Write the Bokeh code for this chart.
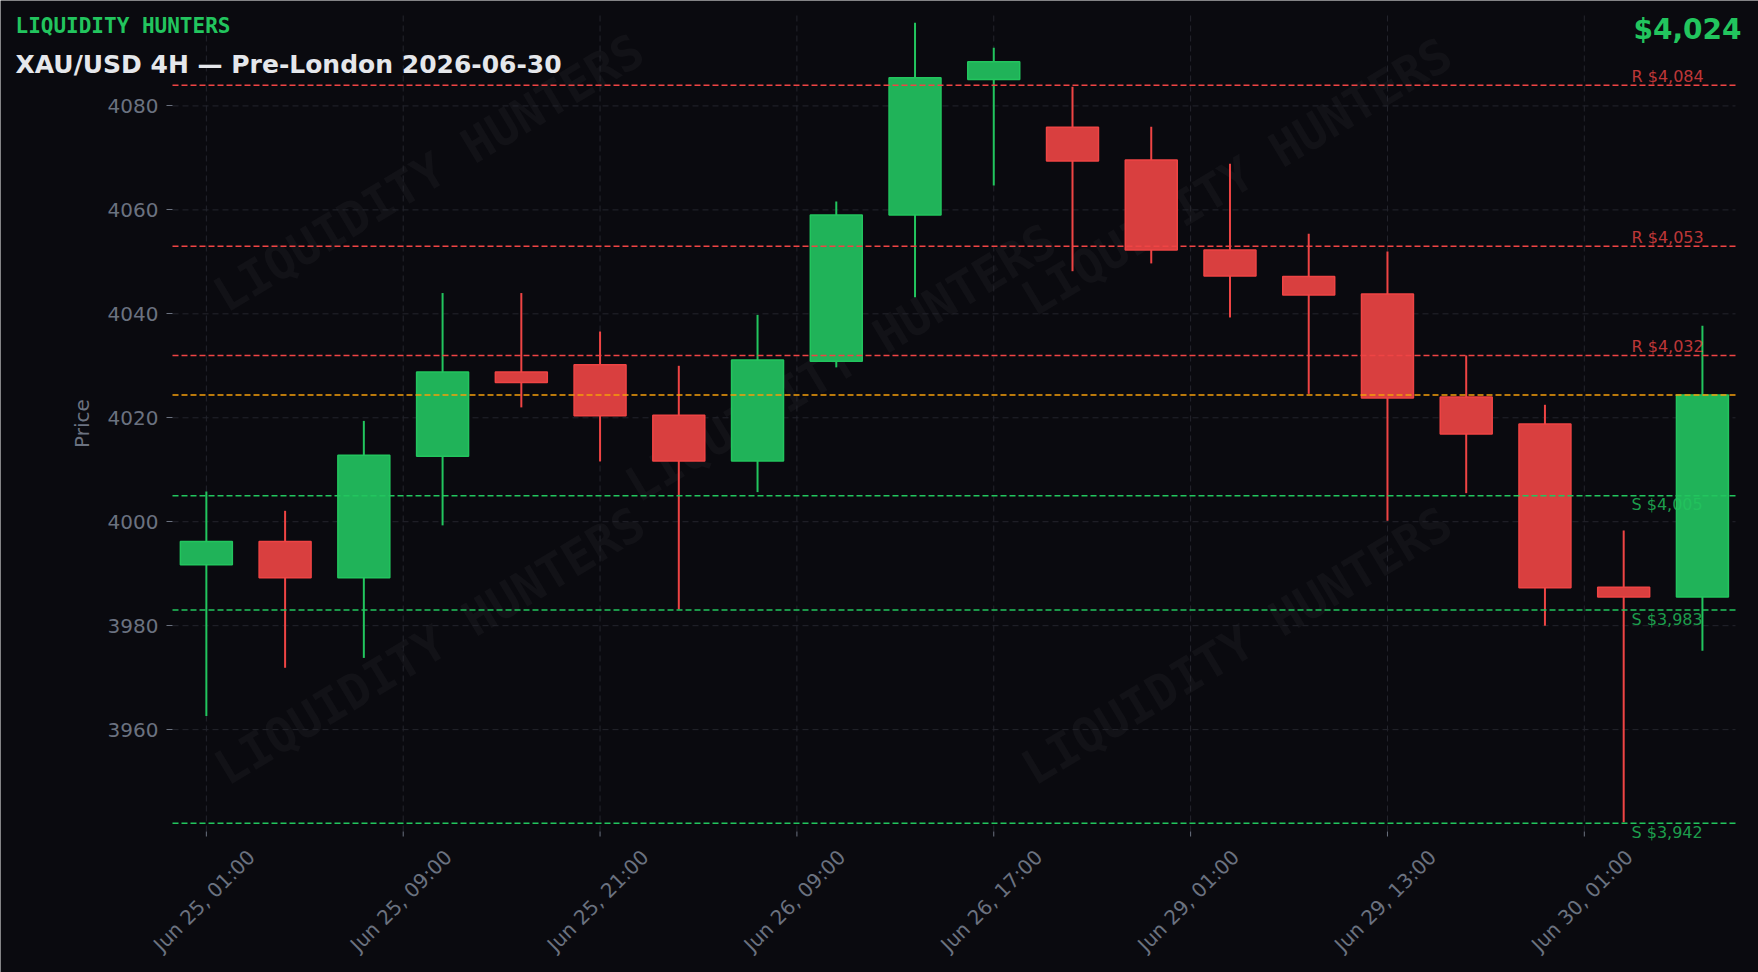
import math
from bokeh.plotting import figure
from bokeh.models import (Range1d, FixedTicker, Label, ColumnDataSource, LinearAxis)
from bokeh.embed import file_html
from bokeh.resources import INLINE

# ---------------- data ----------------
tick_positions = [0, 2.5, 5, 7.5, 10, 12.5, 15, 17.5]
tick_labels = ["Jun 25, 01:00", "Jun 25, 09:00", "Jun 25, 21:00", "Jun 26, 09:00",
               "Jun 26, 17:00", "Jun 29, 01:00", "Jun 29, 13:00", "Jun 30, 01:00"]

opens = [3991.7, 3996.2, 3989.2, 4012.6, 4028.8, 4030.2, 4020.5, 4011.7, 4030.9, 4059.0,
         4085.1, 4075.9, 4069.6, 4052.3, 4047.2, 4043.8, 4024.0, 4018.8, 3987.4, 3985.5]
highs = [4005.8, 4002.1, 4019.4, 4044.0, 4044.0, 4036.6, 4030.0, 4039.8, 4061.6, 4096.0,
         4091.2, 4083.7, 4076.0, 4068.9, 4055.4, 4052.0, 4032.0, 4022.5, 3998.3, 4037.7]
lows = [3962.6, 3971.9, 3973.8, 3999.3, 4022.0, 4011.6, 3983.1, 4005.7, 4029.7, 4043.2,
        4064.7, 4048.2, 4049.7, 4039.3, 4024.6, 4000.2, 4005.5, 3980.0, 3942.2, 3975.2]
closes = [3996.2, 3989.2, 4012.8, 4028.8, 4026.8, 4020.4, 4011.7, 4031.1, 4059.0, 4085.4,
          4088.5, 4069.4, 4052.3, 4047.3, 4043.6, 4023.8, 4016.9, 3987.3, 3985.5, 4024.4]

resistance_levels = [4084, 4053, 4032]
support_levels = [4005, 3983, 3942]
y_ticks = [3960, 3980, 4000, 4020, 4040, 4060, 4080]

brand_text = "LIQUIDITY HUNTERS"
title_text = "XAU/USD 4H \u2014 Pre-London 2026-06-30"

# ---------------- style / layout ----------------
BG = "#0a0a0f"
GREEN = "#22c55e"
RED = "#ef4444"
ORANGE = "#f59e0b"
GREEN_FILL = "#20b359"
RED_FILL = "#d93f3f"
AXIS_GRAY = "#6b7280"
GRID = "#24252d"

W, H = 1758, 972
# plotting area (px) inside the canvas
FL, FR, FT, FB = 172, 1735, 15, 831
X0, X1 = -0.43, 19.42          # visible x limits of the plotting area
Y0, Y1 = 3940.4, 4097.4        # visible y limits of the plotting area

ppx = (FR - FL) / (X1 - X0)
ppy = (FB - FT) / (Y1 - Y0)

# the canvas-wide ranges (frame = whole canvas, area above mapped onto it)
CX0, CX1 = X0 - FL / ppx, X1 + (W - FR) / ppx
CY0, CY1 = Y0 - (H - FB) / ppy, Y1 + FT / ppy


def xd(px):
    return CX0 + px / ppx


def yd(py):
    return CY1 - py / ppy


p = figure(width=W, height=H, output_backend="svg", toolbar_location=None,
           x_range=Range1d(CX0, CX1), y_range=Range1d(CY0, CY1), min_border=0)
p.background_fill_color = BG
p.border_fill_color = None
p.outline_line_color = None
p.xgrid.visible = False
p.ygrid.visible = False
p.extra_x_ranges = {"lbl": Range1d(CX0 - 45 / ppx, CX1 - 45 / ppx)}

# y axis (fixed at the left edge of the plotting area)
ya = p.yaxis[0]
ya.fixed_location = X0
ya.bounds = (Y0, Y1)
ya.ticker = FixedTicker(ticks=y_ticks)
ya.axis_label = "Price"
ya.axis_label_text_font = "DejaVu Sans"
ya.axis_label_text_font_size = "20px"
ya.axis_label_text_font_style = "normal"
ya.axis_label_text_color = AXIS_GRAY
ya.axis_label_standoff = 11
ya.major_label_text_font = "DejaVu Sans"
ya.major_label_text_font_size = "20px"
ya.major_label_text_color = AXIS_GRAY
ya.major_label_standoff = 8
ya.major_tick_out = 6
ya.major_tick_in = 0
ya.minor_tick_line_color = None
ya.major_tick_line_color = AXIS_GRAY
ya.axis_line_color = None

# default x axis: removed (ticks & labels handled below)
p.xaxis[0].visible = False

# x axis with the date labels (rotated)
xb = LinearAxis(x_range_name="lbl", fixed_location=Y0,
                ticker=FixedTicker(ticks=tick_positions),
                major_label_overrides={t: s for t, s in zip(tick_positions, tick_labels)},
                major_label_orientation=math.pi / 4,
                major_label_text_font="DejaVu Sans", major_label_text_font_size="20px",
                major_label_text_color=AXIS_GRAY, major_label_standoff=22,
                major_tick_out=0, major_tick_in=0, major_tick_line_color=None,
                minor_tick_line_color=None, axis_line_color=None)
p.add_layout(xb, "below")

# grid lines (dashed) restricted to the plotting area
p.segment(x0=tick_positions, y0=[Y0] * len(tick_positions), x1=tick_positions,
          y1=[Y1] * len(tick_positions), line_color=GRID, line_dash="6 4", line_width=1)
p.segment(x0=[X0] * len(y_ticks), y0=y_ticks, x1=[X1] * len(y_ticks), y1=y_ticks,
          line_color=GRID, line_dash="6 4", line_width=1)
# x tick marks
p.segment(x0=tick_positions, y0=[Y0] * len(tick_positions), x1=tick_positions,
          y1=[Y0 - 5 / ppy] * len(tick_positions), line_color=AXIS_GRAY, line_width=1)

# watermarks
wm_centers = [(428, 172), (1236, 176), (840, 362), (429, 645), (1236, 645)]
for cx, cy in wm_centers:
    p.add_layout(Label(x=xd(cx), y=yd(cy), text=brand_text, angle=math.radians(31),
                       text_font="DejaVu Sans Mono", text_font_style="bold",
                       text_font_size="48px", text_color="#ffffff", text_alpha=0.035,
                       text_align="center", text_baseline="middle", level="underlay"))

# candles
n = len(opens)
idx = list(range(n))
up = [c >= o for o, c in zip(opens, closes)]
src = ColumnDataSource(dict(
    x=idx,
    top=[max(o, c) for o, c in zip(opens, closes)],
    bottom=[min(o, c) for o, c in zip(opens, closes)],
    high=highs, low=lows,
    line=[GREEN if u else RED for u in up],
    fill=[GREEN_FILL if u else RED_FILL for u in up],
))
p.segment(x0="x", y0="low", x1="x", y1="high", line_color="line", line_width=2, source=src)
p.vbar(x="x", width=0.66, top="top", bottom="bottom", fill_color="fill",
       line_color="line", line_width=1.5, source=src)

# level lines
current_price = closes[-1]
lv_vals = resistance_levels + support_levels + [current_price]
lv_cols = [RED] * len(resistance_levels) + [GREEN] * len(support_levels) + [ORANGE]
p.segment(x0=[X0] * len(lv_vals), y0=lv_vals, x1=[X1] * len(lv_vals), y1=lv_vals,
          line_color=lv_cols, line_dash="6 3", line_width=1.5)

label_x = xd(1631)
for lv in resistance_levels:
    p.add_layout(Label(x=label_x, y=lv + 8.5 / ppy, text=f"R ${lv:,.0f}",
                       text_font="DejaVu Sans", text_font_size="16px",
                       text_color=RED, text_alpha=0.8,
                       text_align="left", text_baseline="alphabetic"))
for lv in support_levels:
    p.add_layout(Label(x=label_x, y=lv + 0.5 / ppy, text=f"S ${lv:,.0f}",
                       text_font="DejaVu Sans", text_font_size="16px",
                       text_color=GREEN, text_alpha=0.8,
                       text_align="left", text_baseline="top"))

# header texts
p.add_layout(Label(x=xd(15), y=yd(25), text=brand_text,
                   text_font="DejaVu Sans Mono", text_font_style="bold",
                   text_font_size="21px", text_color=GREEN,
                   text_align="left", text_baseline="alphabetic"))
p.add_layout(Label(x=xd(15), y=yd(63.7), text=title_text,
                   text_font="DejaVu Sans", text_font_style="bold",
                   text_font_size="25px", text_color="#e5e7eb",
                   text_align="left", text_baseline="alphabetic"))
p.add_layout(Label(x=xd(1741), y=yd(28.5), text=f"${current_price:,.0f}",
                   text_font="DejaVu Sans", text_font_style="bold",
                   text_font_size="28px", text_color=GREEN,
                   text_align="right", text_baseline="alphabetic"))

open("out.html", "w").write(file_html(p, INLINE))
